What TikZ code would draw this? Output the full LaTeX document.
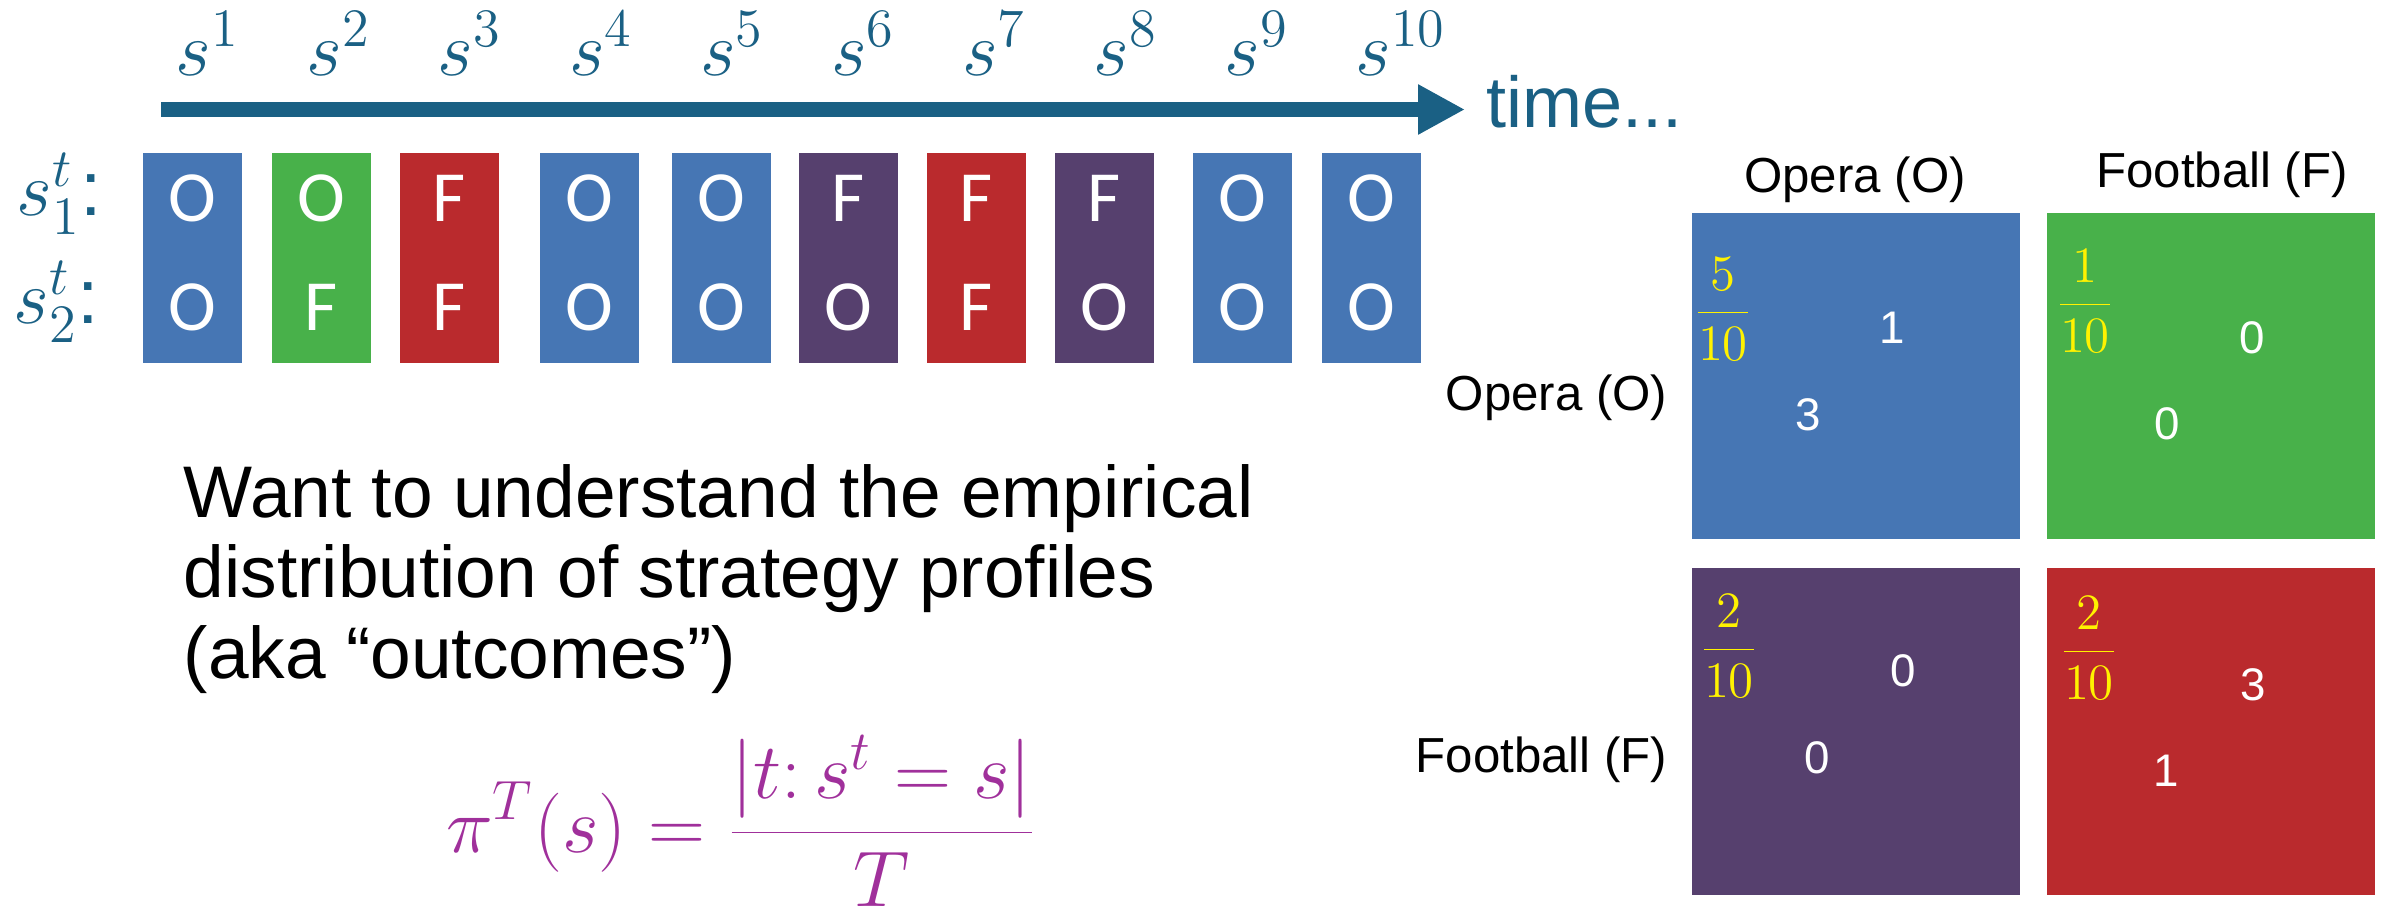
\RequirePackage{fix-cm}
\documentclass[tikz,border=0pt]{standalone}
\usepackage[no-math]{fontspec}
\setmainfont{Liberation Sans}
\newfontfamily\calfont{Carlito}
\usetikzlibrary{arrows.meta}
\definecolor{timeblue}{HTML}{1A6084}
\definecolor{boxblue}{HTML}{4676B4}
\definecolor{boxgreen}{HTML}{48B14A}
\definecolor{boxred}{HTML}{BA2A2D}
\definecolor{boxpurple}{HTML}{56406E}
\definecolor{formula}{HTML}{A0309B}
\begin{document}
\begin{tikzpicture}[x=1cm, y=-1cm,
	tlabel/.style={timeblue, inner sep=0pt, font=\fontsize{22}{26}\selectfont},
	move/.style={white, inner sep=0pt, font=\calfont\fontsize{20.5}{24}\selectfont},
	head/.style={inner sep=0pt, font=\fontsize{14}{17}\selectfont},
	payoff/.style={white, inner sep=0pt, font=\fontsize{13}{16}\selectfont},
	prob/.style={yellow, inner sep=0pt, font=\fontsize{14.5}{17}\selectfont},
	textline/.style={anchor=base west, inner sep=0pt, font=\fontsize{20.8}{24}\selectfont}]
	\useasboundingbox (0,0) rectangle (23.84,9.17);
	% time line
	\coordinate (t0) at (1.61,1.095);
	\coordinate (t1) at (14.65,1.095);
	\draw[timeblue, line width=0.15cm, -{Triangle[length=0.47cm, width=0.47cm]}] (t0) -- (t1);
	\node[tlabel, anchor=base west, font=\fontsize{20.5}{24}\selectfont] (time) at (14.86,1.27) {time...};
	\foreach \k in {1,...,10}
		\node[tlabel, anchor=base west] (s\k) at ({1.75+1.311*(\k-1)},0.75) {$s^{\k}$};
	% players
	\node[tlabel, anchor=base west] (pl1) at (0.16,2.15) {$s_1^t$:};
	\node[tlabel, anchor=base west] (pl2) at (0.13,3.23) {$s_2^t$:};
	\foreach \x/\c/\p/\q [count=\k] in {1.43/boxblue/O/O, 2.72/boxgreen/O/F, 4.00/boxred/F/F,
		5.40/boxblue/O/O, 6.72/boxblue/O/O, 7.99/boxpurple/F/O, 9.27/boxred/F/F,
		10.55/boxpurple/F/O, 11.93/boxblue/O/O, 13.22/boxblue/O/O} {
		\fill[\c] (\x,1.53) rectangle ++(0.99,2.10);
		\node[move] (a\k) at (\x+0.495,1.98) {\p};
		\node[move] (b\k) at (\x+0.495,3.07) {\q};
	}
	% text
	\node[textline] (l1) at (1.83,5.17) {Want to understand the empirical};
	\node[textline] (l2) at (1.83,5.97) {distribution of strategy profiles};
	\node[textline] (l3) at (1.83,6.78) {(aka “outcomes”)};
	\node[formula, inner sep=0pt, font=\fontsize{22.5}{27}\selectfont] (pi) at (7.41,8.21)
		{$\displaystyle \pi^T(s)=\frac{\Bigl|t{:}\,s^t=s\Bigr|}{T}$};
	% game
	\fill[boxblue] (16.92,2.13) rectangle (20.20,5.39);
	\fill[boxgreen] (20.47,2.13) rectangle (23.75,5.39);
	\fill[boxpurple] (16.92,5.68) rectangle (20.20,8.95);
	\fill[boxred] (20.47,5.68) rectangle (23.75,8.95);
	\node[head] (cO) at (18.55,1.80) {Opera (O)};
	\node[head] (cF) at (22.22,1.75) {Football (F)};
	\node[head, anchor=east] (rO) at (16.68,3.98) {Opera (O)};
	\node[head, anchor=east] (rF) at (16.68,7.60) {Football (F)};
	\node[prob] (qOO) at (17.23,3.09) {$\displaystyle\frac{5}{10}$};
	\node[prob] (qOF) at (20.85,3.01) {$\displaystyle\frac{1}{10}$};
	\node[prob] (qFO) at (17.29,6.46) {$\displaystyle\frac{2}{10}$};
	\node[prob] (qFF) at (20.89,6.48) {$\displaystyle\frac{2}{10}$};
	\node[payoff] (uOO2) at (18.92,3.28) {1};
	\node[payoff] (uOO1) at (18.08,4.15) {3};
	\node[payoff] (uOF2) at (22.52,3.38) {0};
	\node[payoff] (uOF1) at (21.67,4.24) {0};
	\node[payoff] (uFO2) at (19.03,6.71) {0};
	\node[payoff] (uFO1) at (18.17,7.58) {0};
	\node[payoff] (uFF2) at (22.53,6.85) {3};
	\node[payoff] (uFF1) at (21.66,7.71) {1};
\end{tikzpicture}
\end{document}
